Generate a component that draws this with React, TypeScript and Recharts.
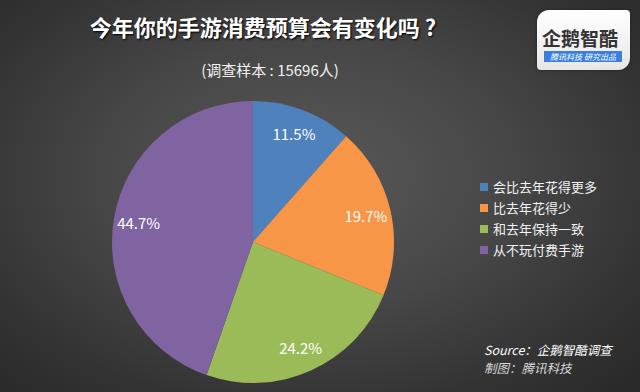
import { PieChart, Pie, Cell } from "recharts";

const categories = ["会比去年花得更多", "比去年花得少", "和去年保持一致", "从不玩付费手游"];
const shares = [11.5, 19.7, 24.2, 44.7];
const colors = ["#4F81BD", "#F79646", "#9BBB59", "#8064A2"];

const data = categories.map((name, i) => ({ name, value: shares[i] }));

const RADIAN = Math.PI / 180;
const font = '"Noto Sans CJK SC", "Noto Sans", sans-serif';

const renderLabel = (props: any) => {
  const { cx, cy, midAngle, value } = props;
  const r = 116;
  const x = cx + r * Math.cos(-midAngle * RADIAN);
  const y = cy + r * Math.sin(-midAngle * RADIAN);
  return (
    <text x={x} y={y} fill="#ffffff" fontSize={15} fontFamily={font} textAnchor="middle" dominantBaseline="central">
      {value.toFixed(1)}%
    </text>
  );
};

export default function App() {
  return (
    <div
      style={{
        position: "absolute",
        left: 0,
        top: 0,
        width: 640,
        height: 392,
        overflow: "hidden",
        background: "radial-gradient(ellipse 70% 75% at 48% 45%, #595959 0%, #474747 45%, #333333 80%, #2a2a2a 100%)",
        fontFamily: font,
      }}
    >
      <div
        style={{
          position: "absolute",
          left: 0,
          width: 526,
          top: 10,
          textAlign: "center",
          color: "#ffffff",
          fontSize: 22,
          fontWeight: 700,
          textShadow: "1px 1px 2px #000",
          whiteSpace: "nowrap",
        }}
      >
        今年你的手游消费预算会有变化吗 ?
      </div>
      <div
        style={{
          position: "absolute",
          left: 0,
          width: 540,
          top: 59,
          textAlign: "center",
          color: "#f2f2f2",
          fontSize: 15,
          whiteSpace: "nowrap",
        }}
      >
        (调查样本 : 15696人)
      </div>

      <div
        style={{
          position: "absolute",
          left: 537,
          top: 10,
          width: 93,
          height: 60,
          background: "linear-gradient(#ffffff, #e6e6e6)",
          borderRadius: "12px 4px 12px 4px",
          boxShadow: "0 0 3px #222",
        }}
      >
        <div style={{ position: "absolute", left: 5, top: 14, fontSize: 19, fontWeight: 700, color: "#333", whiteSpace: "nowrap" }}>
          企鹅智酷
        </div>
        <div
          style={{
            position: "absolute",
            left: 7,
            top: 41,
            width: 78,
            height: 11,
            background: "#3a7fdc",
            color: "#fff",
            fontSize: 8,
            fontStyle: "italic",
            lineHeight: "11px",
            textAlign: "center",
            whiteSpace: "nowrap",
          }}
        >
          腾讯科技 研究出品
        </div>
      </div>

      <PieChart
        width={640}
        height={392}
        margin={{ top: 0, right: 0, bottom: 0, left: 0 }}
        style={{ position: "absolute", left: 0, top: 0 }}
      >
        <Pie
          data={data}
          dataKey="value"
          nameKey="name"
          cx={253}
          cy={242}
          outerRadius={141}
          startAngle={90}
          endAngle={-270}
          stroke="none"
          label={renderLabel}
          labelLine={false}
          isAnimationActive={false}
        >
          {data.map((d, i) => (
            <Cell key={d.name} fill={colors[i]} />
          ))}
        </Pie>
      </PieChart>

      <div style={{ position: "absolute", left: 480, top: 176, fontSize: 13, color: "#f2f2f2" }}>
        {data.map((d, i) => (
          <div key={d.name} style={{ display: "flex", alignItems: "center", height: 21, whiteSpace: "nowrap" }}>
            <span style={{ width: 8, height: 8, background: colors[i], marginRight: 5, display: "inline-block" }} />
            <span>{d.name}</span>
          </div>
        ))}
      </div>

      <div
        style={{
          position: "absolute",
          left: 484,
          top: 341,
          color: "#ffffff",
          fontSize: 12.5,
          fontStyle: "italic",
          lineHeight: "18px",
          whiteSpace: "nowrap",
        }}
      >
        <div>Source：企鹅智酷调查</div>
        <div style={{ color: "#d9d9d9" }}>制图：腾讯科技</div>
      </div>
    </div>
  );
}
